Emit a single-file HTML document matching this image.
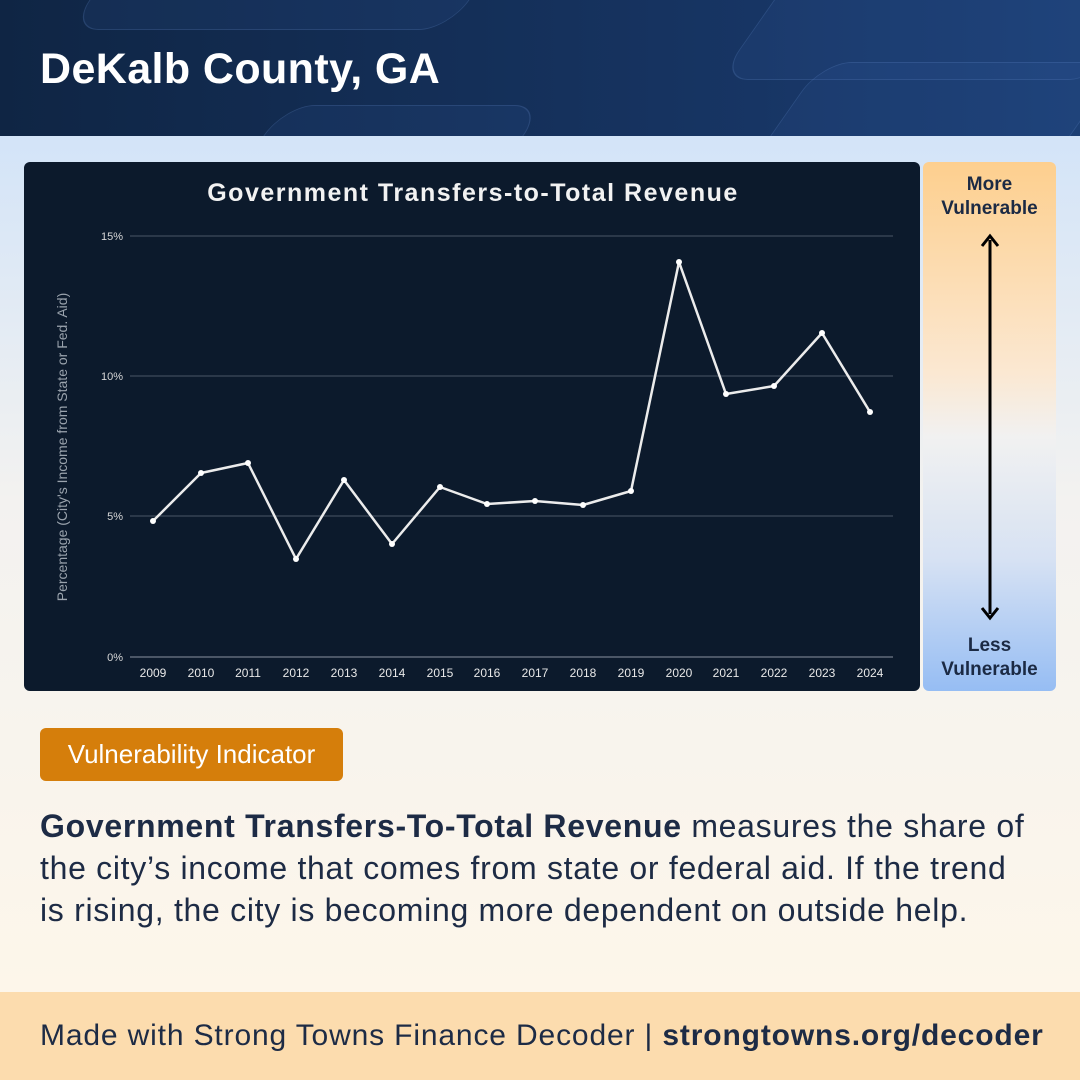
<!DOCTYPE html>
<html><head><meta charset="utf-8"><style>
*{margin:0;padding:0;box-sizing:border-box}
body{width:1080px;height:1080px;overflow:hidden;font-family:"Liberation Sans",sans-serif;position:relative;background:linear-gradient(180deg,#d3e4f8 136px,#f3f2f0 500px,#fdf6ea 990px)}
.hdr{position:absolute;left:0;top:0;width:1080px;height:136px;background:linear-gradient(90deg,#0f2544,#173564 70%,#1c3f74);overflow:hidden}
.hdr h1{position:absolute;left:40px;top:45px;color:#fff;font-size:43px;font-weight:bold;letter-spacing:0.4px}
.shape{position:absolute;border:1px solid rgba(120,160,220,0.18);border-radius:30px;background:rgba(60,100,170,0.12);transform:skewX(-35deg)}
.chart{position:absolute;left:24px;top:162px;width:896px;height:529px;background:#0c1a2c;border-radius:6px}
.side{position:absolute;left:923px;top:162px;width:133px;height:529px;border-radius:6px;background:linear-gradient(180deg,#fdcf8e 0%,#fbe8d2 40%,#f1f1f1 52%,#d7e2f3 75%,#96bdf3 100%);text-align:center;color:#1b2a44;font-weight:bold;font-size:19px;line-height:24px}
.badge{position:absolute;left:40px;top:728px;width:303px;height:53px;background:#d57e0b;border-radius:6px;color:#fff;font-size:26px;line-height:53px;text-align:center}
.para{position:absolute;left:40px;top:805px;width:1040px;font-size:32px;line-height:42px;color:#1d2b45;letter-spacing:0.7px;white-space:nowrap}
.foot{position:absolute;left:0;top:992px;width:1080px;height:88px;background:#fcdcae;font-size:30px;letter-spacing:0.85px;color:#1d2b45;line-height:88px;padding-left:40px;white-space:nowrap}
</style></head><body>
<div class="hdr">
<div class="shape" style="left:760px;top:-40px;width:380px;height:120px"></div>
<div class="shape" style="left:780px;top:62px;width:300px;height:120px"></div>
<div class="shape" style="left:250px;top:105px;width:260px;height:100px"></div>
<div class="shape" style="left:100px;top:-60px;width:380px;height:90px"></div>
<h1>DeKalb County, GA</h1></div>
<div class="chart">
<svg width="896" height="529" viewBox="24 162 896 529" style="position:absolute;left:0;top:0">
<text x="473" y="201" fill="#f2f2f2" font-size="25" font-weight="bold" letter-spacing="1.5" text-anchor="middle" font-family="Liberation Sans">Government Transfers-to-Total Revenue</text>
<g stroke="#4a5666" stroke-width="1"><line x1="130" x2="893" y1="236" y2="236"/><line x1="130" x2="893" y1="376" y2="376"/><line x1="130" x2="893" y1="516" y2="516"/><line x1="130" x2="893" y1="657" y2="657" stroke="#8a939f"/></g>
<g fill="#d8d8d8" font-size="11" text-anchor="end" font-family="Liberation Sans"><text x="123" y="240">15%</text><text x="123" y="380">10%</text><text x="123" y="520">5%</text><text x="123" y="661">0%</text></g>
<text transform="translate(67,447) rotate(-90)" fill="#9aa3ad" font-size="14" text-anchor="middle" font-family="Liberation Sans">Percentage (City's Income from State or Fed. Aid)</text>
<g fill="#e8e8e8" font-size="12" text-anchor="middle" font-family="Liberation Sans">
<text x="153" y="677">2009</text><text x="201" y="677">2010</text><text x="248" y="677">2011</text><text x="296" y="677">2012</text><text x="344" y="677">2013</text><text x="392" y="677">2014</text><text x="440" y="677">2015</text><text x="487" y="677">2016</text><text x="535" y="677">2017</text><text x="583" y="677">2018</text><text x="631" y="677">2019</text><text x="679" y="677">2020</text><text x="726" y="677">2021</text><text x="774" y="677">2022</text><text x="822" y="677">2023</text><text x="870" y="677">2024</text></g>
<polyline fill="none" stroke="#ececec" stroke-width="2.5" stroke-linejoin="round" points="153,521 201,473 248,463 296,559 344,480 392,544 440,487 487,504 535,501 583,505 631,491 679,262 726,394 774,386 822,333 870,412"/>
<g fill="#fff"><circle cx="153" cy="521" r="3"/><circle cx="201" cy="473" r="3"/><circle cx="248" cy="463" r="3"/><circle cx="296" cy="559" r="3"/><circle cx="344" cy="480" r="3"/><circle cx="392" cy="544" r="3"/><circle cx="440" cy="487" r="3"/><circle cx="487" cy="504" r="3"/><circle cx="535" cy="501" r="3"/><circle cx="583" cy="505" r="3"/><circle cx="631" cy="491" r="3"/><circle cx="679" cy="262" r="3"/><circle cx="726" cy="394" r="3"/><circle cx="774" cy="386" r="3"/><circle cx="822" cy="333" r="3"/><circle cx="870" cy="412" r="3"/></g>
</svg></div>
<div class="side"><div style="position:absolute;top:11px;width:133px">More<br>Vulnerable</div>
<svg width="133" height="529" style="position:absolute;left:0;top:0"><line x1="67" y1="78" x2="67" y2="452" stroke="#000" stroke-width="3"/><polyline points="59,84 67,74 75,84" fill="none" stroke="#000" stroke-width="3"/><polyline points="59,446 67,456 75,446" fill="none" stroke="#000" stroke-width="3"/></svg>
<div style="position:absolute;top:472px;width:133px">Less<br>Vulnerable</div></div>
<div class="badge">Vulnerability Indicator</div>
<div class="para"><b>Government Transfers-To-Total Revenue</b> measures the share of<br>the city’s income that comes from state or federal aid. If the trend<br>is rising, the city is becoming more dependent on outside help.</div>
<div class="foot">Made with Strong Towns Finance Decoder | <b>strongtowns.org/decoder</b></div>
</body></html>
